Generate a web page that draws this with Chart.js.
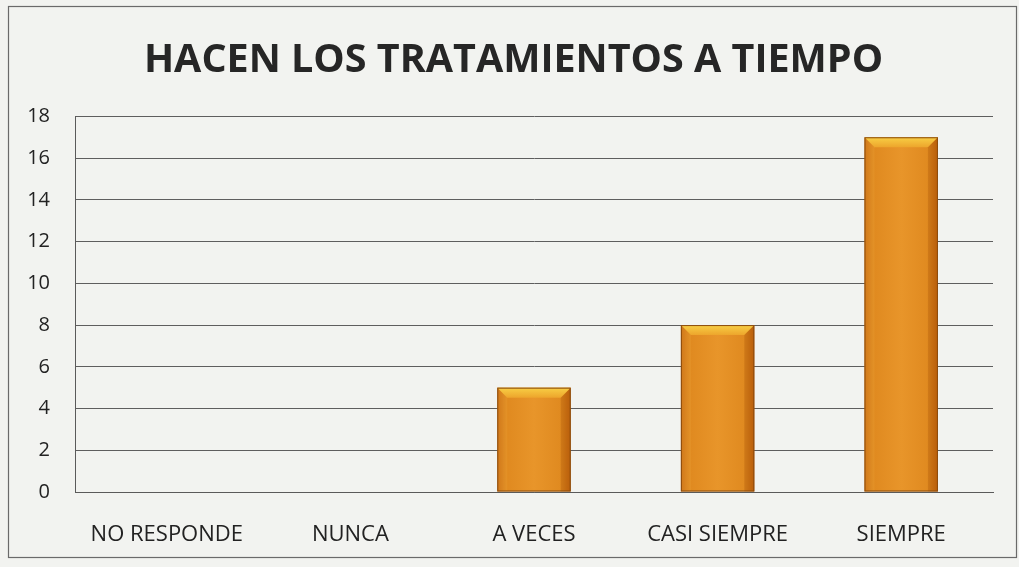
<!DOCTYPE html>
<html>
<head>
<meta charset="utf-8">
<script src="https://cdn.jsdelivr.net/npm/chart.js@4"></script>
<style>
    html, body { margin: 0; padding: 0; background: #f2f3f0; }
    #wrap { width: 1019px; height: 567px; }
</style>
</head>
<body>
<div id="wrap"><canvas id="tratamientosChart" width="1019" height="567"></canvas></div>
<script>
const chartTitle = "HACEN LOS TRATAMIENTOS A TIEMPO";
const categories = ["NO RESPONDE", "NUNCA", "A VECES", "CASI SIEMPRE", "SIEMPRE"];
const respuestas = [0, 0, 5, 8, 17];
const yTicks = [0, 2, 4, 6, 8, 10, 12, 14, 16, 18];

// outer frame around the whole chart, title nudged right a little
const framePlugin = {
    id: "frame",
    afterLayout(chart) {
        if (chart.titleBlock) chart.titleBlock.left += 34;
    },
    beforeDraw(chart) {
        const ctx = chart.ctx;
        ctx.save();
        ctx.fillStyle = "#f2f3f0";
        ctx.fillRect(0, 0, chart.width, chart.height);
        ctx.strokeStyle = "#6a6a6a";
        ctx.lineWidth = 1.2;
        ctx.strokeRect(8.5, 6.5, 1008, 551);
        ctx.restore();
    }
};

// orange bars with a raised bevel on top and darker sides
const bevelPlugin = {
    id: "bevel",
    afterDatasetsDraw(chart) {
        const ctx = chart.ctx;
        chart.getDatasetMeta(0).data.forEach(bar => {
            const h = bar.base - bar.y;
            if (h <= 0) return;
            const left = bar.x - bar.width / 2;
            const right = bar.x + bar.width / 2;
            const top = bar.y;
            const b = 10;
            ctx.save();

            let g = ctx.createLinearGradient(left, 0, right, 0);
            g.addColorStop(0, "#c86a10");
            g.addColorStop(0.14, "#e08a20");
            g.addColorStop(0.5, "#e8952a");
            g.addColorStop(0.86, "#e08a20");
            g.addColorStop(1, "#c3650e");
            ctx.fillStyle = g;
            ctx.fillRect(left, top, bar.width, h);

            // top bevel
            let tg = ctx.createLinearGradient(0, top, 0, top + b);
            tg.addColorStop(0, "#f8cf45");
            tg.addColorStop(1, "#eda52c");
            ctx.fillStyle = tg;
            ctx.beginPath();
            ctx.moveTo(left, top);
            ctx.lineTo(right, top);
            ctx.lineTo(right - b, top + b);
            ctx.lineTo(left + b, top + b);
            ctx.closePath();
            ctx.fill();

            // side bevels
            ctx.fillStyle = "rgba(150, 70, 0, 0.22)";
            ctx.beginPath();
            ctx.moveTo(right, top);
            ctx.lineTo(right, bar.base);
            ctx.lineTo(right - b, bar.base);
            ctx.lineTo(right - b, top + b);
            ctx.closePath();
            ctx.fill();
            ctx.fillStyle = "rgba(255, 200, 90, 0.15)";
            ctx.beginPath();
            ctx.moveTo(left, top);
            ctx.lineTo(left + b, top + b);
            ctx.lineTo(left + b, bar.base);
            ctx.lineTo(left, bar.base);
            ctx.closePath();
            ctx.fill();

            ctx.strokeStyle = "#8a4a0c";
            ctx.lineWidth = 1;
            ctx.strokeRect(left + 0.5, top + 0.5, bar.width - 1, h - 1);
            ctx.restore();
        });
    }
};

const ctx = document.getElementById("tratamientosChart").getContext("2d");
new Chart(ctx, {
    type: "bar",
    data: {
        labels: categories,
        datasets: [{
            label: chartTitle,
            data: respuestas,
            backgroundColor: "rgba(0,0,0,0)",
            borderWidth: 0,
            categoryPercentage: 1,
            barPercentage: 0.4
        }]
    },
    options: {
        responsive: false,
        animation: false,
        layout: { padding: { left: 0, right: 26, top: 0, bottom: 0 } },
        plugins: {
            legend: { display: false },
            tooltip: { enabled: false },
            title: {
                display: true,
                text: chartTitle,
                color: "#262626",
                font: { family: "Open Sans", size: 39.5, weight: "bold" },
                padding: { top: 37, bottom: 32 }
            }
        },
        scales: {
            x: {
                grid: { display: false },
                border: { color: "#5a5a5a", width: 1 },
                ticks: {
                    color: "#222",
                    font: { family: "Open Sans", size: 22 },
                    padding: 22,
                    maxRotation: 0
                },
                afterFit(scale) { scale.height = 75; }
            },
            y: {
                min: 0,
                max: 18,
                afterBuildTicks(scale) {
                    scale.ticks = yTicks.map(v => ({ value: v }));
                },
                grid: { color: "#5e5e5e", lineWidth: 1, drawTicks: false },
                border: { color: "#5a5a5a", width: 1 },
                ticks: {
                    color: "#222",
                    font: { family: "Open Sans", size: 20 },
                    padding: 25
                },
                afterFit(scale) { scale.width = 75; }
            }
        }
    },
    plugins: [framePlugin, bevelPlugin]
});
</script>
</body>
</html>
